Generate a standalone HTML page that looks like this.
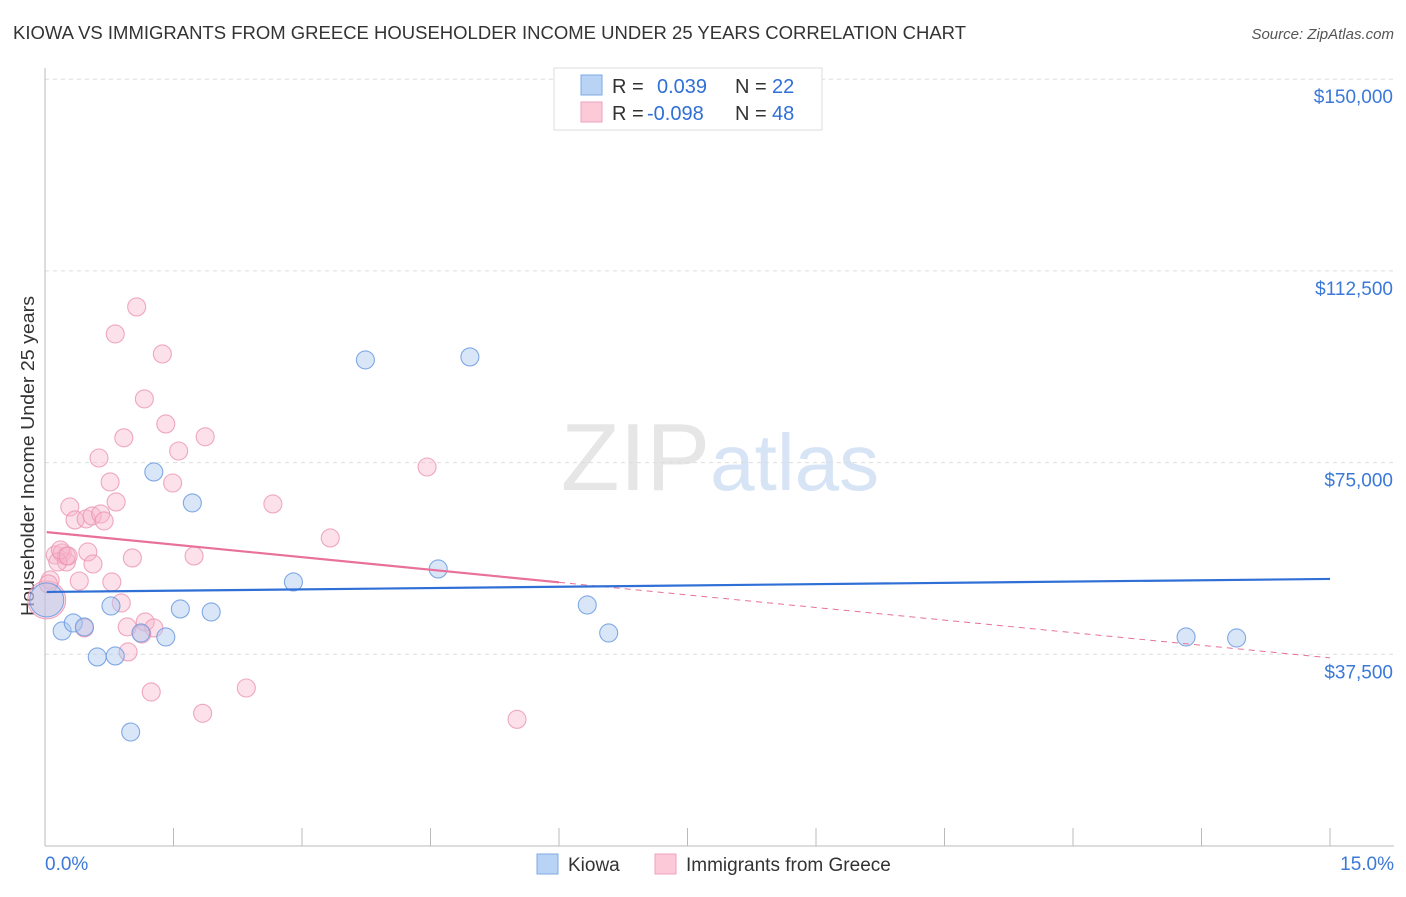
<!DOCTYPE html>
<html><head><meta charset="utf-8"><style>
body{margin:0;background:#fff;font-family:"Liberation Sans",sans-serif;}
svg text{font-family:"Liberation Sans",sans-serif;}
</style></head><body>
<svg id="chart" width="1406" height="892" viewBox="0 0 1406 892" xmlns="http://www.w3.org/2000/svg">
<text x="13" y="39" font-size="18" fill="#333" textLength="953" lengthAdjust="spacingAndGlyphs">KIOWA VS IMMIGRANTS FROM GREECE HOUSEHOLDER INCOME UNDER 25 YEARS CORRELATION CHART</text>
<text x="1394" y="39" font-size="15" fill="#555" text-anchor="end" font-style="italic">Source: ZipAtlas.com</text>
<text x="720" y="490" font-size="96" text-anchor="middle" fill="#e6e6e6" font-family="Liberation Serif">ZIP<tspan fill="#d6e4f5" font-family="Liberation Sans" font-size="80">atlas</tspan></text>
<text transform="translate(34,456) rotate(-90)" font-size="18" fill="#333" text-anchor="middle" textLength="320" lengthAdjust="spacingAndGlyphs">Householder Income Under 25 years</text>
<g id="grid"></g><g id="marks"></g>
<g>
<rect x="554" y="68" width="268" height="62" fill="#fff" stroke="#ddd"/>
<rect x="581" y="75" width="21" height="20" fill="#b9d3f5" stroke="#7fa8e2"/>
<rect x="581" y="102" width="21" height="20" fill="#fbc9d8" stroke="#eea2bb"/>
<text x="612" y="93" font-size="20" fill="#333">R =</text><text x="657" y="93" font-size="20" fill="#2f6fd6">0.039</text>
<text x="735" y="93" font-size="20" fill="#333">N =</text><text x="772" y="93" font-size="20" fill="#2f6fd6">22</text>
<text x="612" y="120" font-size="20" fill="#333">R =</text><text x="647" y="120" font-size="20" fill="#2f6fd6">-0.098</text>
<text x="735" y="120" font-size="20" fill="#333">N =</text><text x="772" y="120" font-size="20" fill="#2f6fd6">48</text>
</g>
<g>
<rect x="537" y="854" width="21" height="20" fill="#b9d3f5" stroke="#7fa8e2"/>
<text x="568" y="871" font-size="19" fill="#333">Kiowa</text>
<rect x="655" y="854" width="21" height="20" fill="#fbc9d8" stroke="#eea2bb"/>
<text x="686" y="871" font-size="19" fill="#333">Immigrants from Greece</text>
</g>
</svg>
<script>
const yTicks=[37500,75000,112500,150000];
const yTickLabels=["$37,500","$75,000","$112,500","$150,000"];
const xTickLabels=["0.0%","15.0%"];
const kiowaX=[0.02,0.20,0.33,0.61,0.82,0.77,1.00,1.12,1.41,1.58,1.94,1.27,1.72,2.90,3.74,4.96,4.59,6.33,6.58,13.32,13.91,0.46];
const kiowaY=[48130,42065,43630,36980,37175,46955,22300,41670,40890,46370,45780,73170,67110,51650,95090,95670,54195,47150,41670,40890,40695,42850];
const greeceX=[0.02,0.06,0.12,0.20,0.25,0.29,0.35,0.40,0.46,0.50,0.48,0.56,0.55,0.63,0.65,0.76,0.78,0.83,0.82,0.89,0.92,0.96,0.97,1.02,1.07,1.16,1.17,1.24,1.27,1.37,1.41,1.49,1.56,1.74,1.84,1.87,2.35,2.66,3.33,4.46,5.51,0.25,0.15,0.69,1.13,0.18,0.04,0.27];
const greeceY=[48130,52040,56930,57320,55560,66320,63780,51840,42650,57520,63980,55170,64560,75900,64950,71210,51650,67300,100170,47540,79850,42850,37960,56350,105450,87460,43830,30130,42650,96250,82560,71010,77270,56740,25960,80050,30910,66910,60260,74140,24780,56740,55560,63590,41460,57910,51260,56740];
const blueLine=[49695,52240], pinkLine=[61430,36800], pinkSolidEnd=6.0;
const svg=document.getElementById('chart'),NS='http://www.w3.org/2000/svg';
const X=v=>45+v*(1330-45)/15, Y=v=>846-v*(191.7/37500);
function mk(t,a,p){const e=document.createElementNS(NS,t);for(const k in a)e.setAttribute(k,a[k]);(p||svg).appendChild(e);return e;}
const grid=document.getElementById('grid'),marks=document.getElementById('marks');
yTicks.forEach((v,i)=>{
 const l=mk('line',{x1:45,x2:1394,y1:Y(v),y2:Y(v),stroke:'#ddd','stroke-dasharray':'4,4'},grid);
 
 
 const t=mk('text',{x:1393,y:Y(v)+24,'font-size':19,fill:'#3b78d8','text-anchor':'end'},grid);t.textContent=yTickLabels[i];
 
 
});
mk('line',{x1:45,x2:45,y1:68,y2:846,stroke:'#bbb'},grid);
mk('line',{x1:45,x2:1394,y1:846,y2:846,stroke:'#bbb'},grid);
for(let i=0;i<=10;i++){const x=X(i*1.5);mk('line',{x1:x,x2:x,y1:828,y2:846,stroke:'#bbb'},grid);}
[[0,'start',45],[1,'end',1394]].forEach(([i,a,x])=>{const t=mk('text',{x:x,y:870,'font-size':19,fill:'#3b78d8','text-anchor':a},grid);t.textContent=xTickLabels[i];
 
 });
greeceX.forEach((v,i)=>{const c=mk('circle',{cx:X(v),cy:Y(greeceY[i]),r:i==0?19:9,fill:'rgba(248,180,202,0.4)',stroke:'rgba(235,148,178,0.8)','stroke-width':1.1},marks);
 
 });
kiowaX.forEach((v,i)=>{const c=mk('circle',{cx:X(v),cy:Y(kiowaY[i]),r:i==0?17:9,fill:'rgba(170,200,240,0.45)',stroke:'rgba(108,155,224,0.85)','stroke-width':1.1},marks);
 
 });
const pk=v=>pinkLine[0]+(pinkLine[1]-pinkLine[0])*v/15;
let l=mk('line',{x1:X(0.02),y1:Y(pk(0.02)),x2:X(pinkSolidEnd),y2:Y(pk(pinkSolidEnd)),stroke:'#e8709a','stroke-width':2.2},marks);


l=mk('line',{x1:X(pinkSolidEnd),y1:Y(pk(pinkSolidEnd)),x2:X(15),y2:Y(pk(15)),stroke:'#e8709a','stroke-width':1,'stroke-dasharray':'6,5'},marks);


l=mk('line',{x1:X(0.02),y1:Y(blueLine[0]),x2:X(15),y2:Y(blueLine[1]),stroke:'#2f6fd6','stroke-width':2.2},marks);


</script>
</body></html>
